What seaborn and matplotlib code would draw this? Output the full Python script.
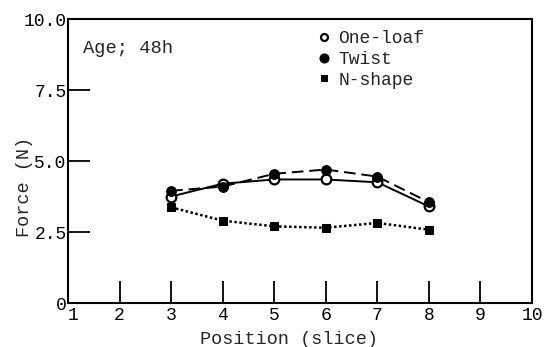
import matplotlib
matplotlib.use("Agg")
import matplotlib.pyplot as plt
import seaborn as sns

positions = [3, 4, 5, 6, 7, 8]
one_loaf = [3.75, 4.2, 4.35, 4.35, 4.25, 3.4]
twist = [3.95, 4.1, 4.55, 4.7, 4.45, 3.55]
n_shape = [3.37, 2.9, 2.7, 2.65, 2.82, 2.58]
xticks = [1, 2, 3, 4, 5, 6, 7, 8, 9, 10]
yticks = [0, 2.5, 5.0, 7.5, 10.0]
ytick_labels = ["0", "2.5", "5.0", "7.5", "10.0"]

sns.set_style("white")
plt.rcParams['font.family'] = ['Liberation Mono', 'DejaVu Sans']

fig = plt.figure(figsize=(5.47, 3.47), dpi=100)
ax = fig.add_axes([0.1243, 0.1268, 0.8483, 0.8184])

sns.lineplot(x=positions, y=one_loaf, ax=ax, color="black", linestyle="-",
             linewidth=1.4, marker="o", markersize=7, markerfacecolor="white",
             markeredgecolor="black", markeredgewidth=1.6, label="One-loaf")
sns.lineplot(x=positions, y=twist, ax=ax, color="black", linestyle=(0, (6, 3)),
             linewidth=1.4, marker="o", markersize=7, markerfacecolor="black",
             markeredgecolor="black", label="Twist")
sns.lineplot(x=positions, y=n_shape, ax=ax, color="black", linestyle=(0, (1, 1)),
             linewidth=1.8, marker="s", markersize=6, markerfacecolor="black",
             markeredgecolor="black", label="N-shape")

ax.set_xlim(1, 10)
ax.set_ylim(0, 10)
ax.set_xticks(xticks)
ax.set_xticklabels([str(t) for t in xticks])
ax.set_yticks(yticks)
ax.set_yticklabels(ytick_labels)
for s in ax.spines.values():
    s.set_color("black")
    s.set_linewidth(1.5)
ax.tick_params(axis="both", direction="in", length=16, width=1.3, colors="black",
               labelsize=13, bottom=True, left=True, top=False, right=False)
ax.tick_params(axis="y", pad=1)
ax.tick_params(axis="x", pad=3)
ax.get_xticklabels()[0].set_horizontalalignment("left")

ax.set_xlabel("Position (slice)", fontsize=13.3)
ax.xaxis.set_label_coords(0.476, -0.1)
ax.set_ylabel("Force (N)", fontsize=13.3)
ax.yaxis.set_label_coords(-0.075, 0.41)

ax.text(0.033, 0.896, "Age; 48h", transform=ax.transAxes, fontsize=13.5,
        va="center", ha="left")

leg = ax.legend(loc="upper left", bbox_to_anchor=(0.54, 0.96), frameon=False,
                handlelength=0.6, handletextpad=0.5, labelspacing=0.2,
                fontsize=13, borderaxespad=0, borderpad=0)
sizes = [5, 6.5, 5]
for h, ms in zip(leg.legend_handles, sizes):
    h.set_linestyle("None")
    h.set_markersize(ms)

fig.savefig("out.png", dpi=100)
